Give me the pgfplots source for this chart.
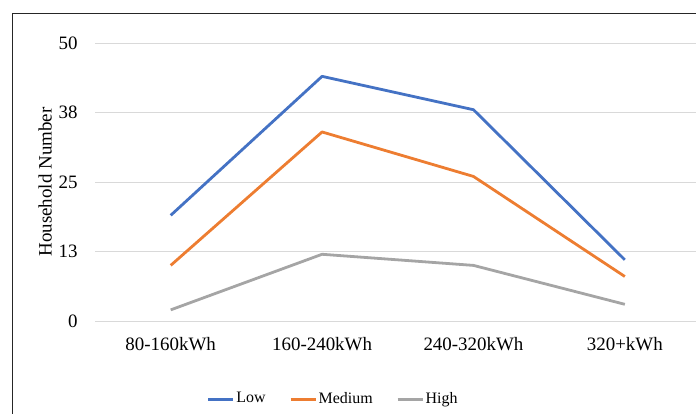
\documentclass[border=0pt]{standalone}
\usepackage{fontspec}
\setmainfont{Liberation Serif}
\usepackage{pgfplots}
\pgfplotsset{compat=1.18}
\definecolor{lowblue}{HTML}{4472C4}
\definecolor{medorange}{HTML}{ED7D31}
\definecolor{highgray}{HTML}{A5A5A5}
\definecolor{gridgray}{HTML}{D9D9D9}
\begin{document}
\fontsize{19}{23}\selectfont
\begin{tikzpicture}
\path[use as bounding box] (0,0) rectangle (696bp,414bp);
% chart frame
\draw[line width=0.9bp, black!85] (12bp,0) -- (12bp,401bp) -- (696bp,401bp);
\begin{axis}[
  at={(95bp,93bp)}, anchor=south west,
  scale only axis, width=601bp, height=278bp,
  xmin=-0.5, xmax=3.47, ymin=0, ymax=50,
  clip=false,
  axis line style={draw=none},
  tick style={draw=none},
  ymajorgrids, grid style={gridgray, line width=1bp},
  ytick={0,12.5,25,37.5,50},
  yticklabels={0,13,25,38,50},
  xtick={0,1,2,3},
  xticklabels={80-160kWh,160-240kWh,240-320kWh,320+kWh},
  /pgf/number format/assume math mode=true,
  ticklabel style={font=\fontsize{19}{23}\selectfont},
  yticklabel style={xshift=-11bp},
  xticklabel style={yshift=-10bp},
  ylabel={Household Number},
  ylabel style={at={(axis description cs:-0.083,0.5)}, anchor=center, font=\fontsize{19}{23}\selectfont},
  legend style={at={(axis description cs:0.396,-0.2806)}, anchor=center,
    draw=none, fill=none, legend columns=-1,
    font=\fontsize{16}{19}\selectfont,
    /tikz/every even column/.append style={column sep=22bp},
    nodes={inner sep=1.5bp}},
  legend image code/.code={\draw[#1, line width=3bp] (0bp,0bp) -- (25bp,0bp);},
  every axis plot/.append style={line width=2.8bp, line join=round},
]
\addplot[lowblue] coordinates {(0,19) (1,44) (2,38) (3,11)};
\addlegendentry{Low}
\addplot[medorange] coordinates {(0,10) (1,34) (2,26) (3,8)};
\addlegendentry{Medium}
\addplot[highgray] coordinates {(0,2) (1,12) (2,10) (3,3)};
\addlegendentry{High}
\end{axis}
\end{tikzpicture}
\end{document}
